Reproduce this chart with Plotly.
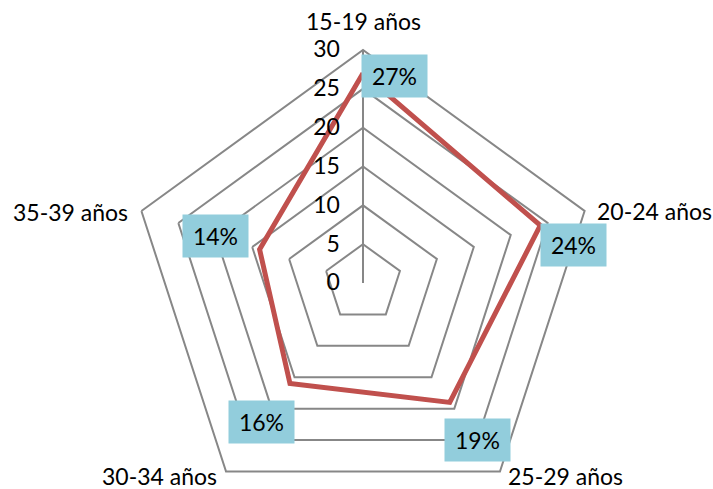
import math
import plotly.graph_objects as go

# age groups and share of cases (%)
age_groups = ['15-19 años', '20-24 años', '25-29 años', '30-34 años', '35-39 años']
shares = [27, 24, 19, 16, 14]
share_labels = ['27%', '24%', '19%', '16%', '14%']
radial_ticks = [0, 5, 10, 15, 20, 25, 30]

R_MAX = 30
LINE_RED = '#C0504D'
GRID = '#878787'
BOX_BLUE = '#92CDDC'
FONT = 'Lato'

# pixel offsets of the value boxes relative to their point
label_shift = [(31, -3), (33, -20), (28, -38), (-28, -38), (-44, 13)]
# category labels: anchor and offset relative to the outer vertex
cat_anchor = ['center', 'left', 'left', 'right', 'right']
cat_shift = [(0, 29), (10, 0), (6, -4), (-7, -4), (-11, -1)]


def to_paper(val, i):
    # polar domain fills the whole plot area, so centre is (0.5, 0.5), radius 0.5
    ang = 2 * math.pi * i / len(age_groups)
    frac = val / R_MAX
    return 0.5 + 0.5 * frac * math.sin(ang), 0.5 + 0.5 * frac * math.cos(ang)


fig = go.Figure()

fig.add_trace(go.Scatterpolar(
    r=shares + shares[:1],
    theta=age_groups + age_groups[:1],
    mode='lines',
    line=dict(color=LINE_RED, width=5),
    hoverinfo='skip',
    showlegend=False,
))

for i, (val, txt) in enumerate(zip(shares, share_labels)):
    x, y = to_paper(val, i)
    fig.add_annotation(
        x=x, y=y, xref='paper', yref='paper',
        xanchor='center', yanchor='middle',
        xshift=label_shift[i][0], yshift=label_shift[i][1],
        text=txt, showarrow=False,
        bgcolor=BOX_BLUE, width=63, height=40,
        font=dict(family=FONT, size=23, color='black'),
    )

for i, name in enumerate(age_groups):
    x, y = to_paper(R_MAX, i)
    fig.add_annotation(
        x=x, y=y, xref='paper', yref='paper',
        xanchor=cat_anchor[i], yanchor='middle',
        xshift=cat_shift[i][0], yshift=cat_shift[i][1],
        text=name, showarrow=False,
        font=dict(family=FONT, size=23, color='black'),
    )

fig.update_layout(
    width=713, height=530,
    margin=dict(l=130, r=117, t=50, b=14),
    paper_bgcolor='white',
    font=dict(family=FONT, size=23, color='black'),
    polar=dict(
        bgcolor='white',
        gridshape='linear',
        domain=dict(x=[0, 1], y=[0, 1]),
        angularaxis=dict(
            rotation=90, direction='clockwise',
            showgrid=False, showline=True,
            linecolor=GRID, linewidth=2,
            ticks='', showticklabels=False,
        ),
        radialaxis=dict(
            range=[0, R_MAX], tickvals=radial_ticks,
            angle=90, side='counterclockwise', tickangle=90,
            showline=True, linecolor=GRID, linewidth=2,
            gridcolor=GRID, gridwidth=1.5,
            ticks='outside', ticklen=14, tickcolor='rgba(0,0,0,0)',
            tickfont=dict(size=23),
        ),
    ),
)

fig.write_html(
    "out.html",
    config={'displayModeBar': False},
    post_script="document.body.style.margin='0';document.body.style.overflow='hidden';",
)
